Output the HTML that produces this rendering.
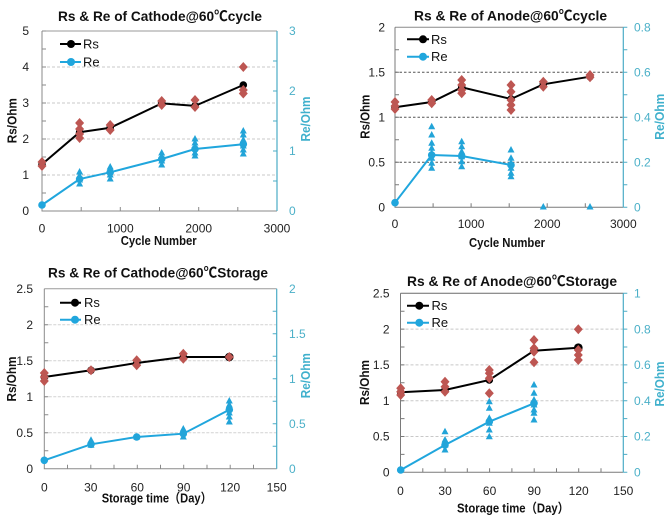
<!DOCTYPE html>
<html><head><meta charset="utf-8"><style>
html,body{margin:0;padding:0;background:#fff;}
svg{display:block;}
text{font-family:"Liberation Sans","Noto Sans CJK SC",sans-serif;}
.t{font-size:14px;font-weight:bold;fill:#111;}
.at{font-size:13px;font-weight:bold;fill:#111;}
.ar{font-size:13px;font-weight:bold;fill:#3fb0cc;}
.tk{font-size:12px;fill:#222;}
.tr{font-size:12px;fill:#4bb0c8;}
.lg{font-size:13px;fill:#111;}
</style></head><body>
<svg width="668" height="519" viewBox="0 0 668 519" xmlns="http://www.w3.org/2000/svg">
<rect width="668" height="519" fill="#fff"/>

<!-- ================= CHART 1 ================= -->
<g>
<path d="M42 175H277M42 139H277M42 103H277M42 67H277" stroke="#c8c8c8" stroke-width="1" stroke-dasharray="3,2" fill="none"/>
<path d="M42 31H277" stroke="#9a9a9a" stroke-width="1"/>
<path d="M42 31V211H277" stroke="#8a8a8a" stroke-width="1" fill="none"/>
<path d="M277 31V211" stroke="#4bacc6" stroke-width="1.2"/>
<path d="M42 193h4M42 175h4M42 157h4M42 139h4M42 121h4M42 103h4M42 85h4M42 67h4M42 49h4M42 31h4M81.2 211v-4M120.3 211v-4M159.5 211v-4M198.7 211v-4M237.8 211v-4" stroke="#8a8a8a" stroke-width="1"/>
<path d="M277 181h-4M277 151h-4M277 121h-4M277 91h-4M277 61h-4" stroke="#4bacc6" stroke-width="1"/>
<polyline points="42,164.2 79.6,132.2 110.2,127.8 161.7,103.4 195,105.9 243.3,85" fill="none" stroke="#000" stroke-width="2"/>
<g fill="#000"><circle cx="42" cy="164.2" r="3.8"/><circle cx="79.6" cy="132.2" r="3.8"/><circle cx="110.2" cy="127.8" r="3.8"/><circle cx="161.7" cy="103.4" r="3.8"/><circle cx="195" cy="105.9" r="3.8"/><circle cx="243.3" cy="85" r="3.8"/></g>
<polyline points="42,205 79.6,179 110.2,172.3 161.7,159 195,149 243.3,144.3" fill="none" stroke="#20a6dd" stroke-width="2"/>
<g fill="#20a6dd"><circle cx="42" cy="205" r="3.8"/><circle cx="79.6" cy="179" r="3.8"/><circle cx="110.2" cy="172.3" r="3.8"/><circle cx="161.7" cy="159" r="3.8"/><circle cx="195" cy="149" r="3.8"/><circle cx="243.3" cy="144.3" r="3.8"/></g>
<path fill="#bd5652" d="M42 157l4.5 5-4.5 5-4.5-5zM42 161l4.5 5-4.5 5-4.5-5zM79.6 118l4.5 5-4.5 5-4.5-5zM79.6 124l4.5 5-4.5 5-4.5-5zM79.6 129l4.5 5-4.5 5-4.5-5zM79.6 133l4.5 5-4.5 5-4.5-5zM110.2 120l4.5 5-4.5 5-4.5-5zM110.2 125l4.5 5-4.5 5-4.5-5zM161.7 96l4.5 5-4.5 5-4.5-5zM161.7 100l4.5 5-4.5 5-4.5-5zM195 95l4.5 5-4.5 5-4.5-5zM195 102l4.5 5-4.5 5-4.5-5zM243.3 62l4.5 5-4.5 5-4.5-5zM243.3 85l4.5 5-4.5 5-4.5-5zM243.3 88.5l4.5 5-4.5 5-4.5-5z"/>
<path fill="#22a4d8" d="M79.6 168l3.5 6.5h-7zM79.6 172l3.5 6.5h-7zM79.6 176l3.5 6.5h-7zM79.6 180l3.5 6.5h-7zM110.2 163l3.5 6.5h-7zM110.2 167l3.5 6.5h-7zM110.2 171l3.5 6.5h-7zM110.2 175l3.5 6.5h-7zM161.7 149l3.5 6.5h-7zM161.7 153l3.5 6.5h-7zM161.7 157l3.5 6.5h-7zM161.7 161l3.5 6.5h-7zM195 135l3.5 6.5h-7zM195 139l3.5 6.5h-7zM195 144l3.5 6.5h-7zM195 149l3.5 6.5h-7zM195 152l3.5 6.5h-7zM243.3 127l3.5 6.5h-7zM243.3 131l3.5 6.5h-7zM243.3 136l3.5 6.5h-7zM243.3 142l3.5 6.5h-7zM243.3 146l3.5 6.5h-7zM243.3 150l3.5 6.5h-7z"/>
<!-- legend -->
<path d="M60 44H81M60 62H81" stroke="#000" stroke-width="2"/>
<path d="M60 62H81" stroke="#20a6dd" stroke-width="2"/>
<circle cx="71" cy="44" r="4" fill="#000"/><circle cx="71" cy="62" r="4" fill="#20a6dd"/>
<text class="lg" x="83" y="48.5">Rs</text><text class="lg" x="83" y="66.5">Re</text>
<!-- labels -->
<text class="t" x="160" y="21" text-anchor="middle" textLength="204" lengthAdjust="spacingAndGlyphs">Rs &amp; Re of Cathode@60℃cycle</text>
<g class="tk" text-anchor="end"><text x="29" y="215">0</text><text x="29" y="179">1</text><text x="29" y="143">2</text><text x="29" y="107">3</text><text x="29" y="71">4</text><text x="29" y="35">5</text></g>
<g class="tr"><text x="289" y="215">0</text><text x="289" y="155">1</text><text x="289" y="95">2</text><text x="289" y="35">3</text></g>
<g class="tk" text-anchor="middle"><text x="42" y="232.5">0</text><text x="120.3" y="232.5">1000</text><text x="198.7" y="232.5">2000</text><text x="277" y="232.5">3000</text></g>
<text class="at" x="158.7" y="245" text-anchor="middle" textLength="76" lengthAdjust="spacingAndGlyphs">Cycle Number</text>
<text class="at" x="16.5" y="120.7" text-anchor="middle" transform="rotate(-90 16.5 120.7)" textLength="45" lengthAdjust="spacingAndGlyphs">Rs/Ohm</text>
<text class="ar" x="310" y="119" text-anchor="middle" transform="rotate(-90 310 119)" textLength="45" lengthAdjust="spacingAndGlyphs">Re/Ohm</text>
</g>

<!-- ================= CHART 2 ================= -->
<g>
<path d="M395 162.3H623.3M395 117.3H623.3M395 72.3H623.3" stroke="#555" stroke-width="1" stroke-dasharray="2.5,2" fill="none"/>
<path d="M395 27.3H623.3" stroke="#8a8a8a" stroke-width="1"/>
<path d="M395 27.3V207.3H623.3" stroke="#7a7a7a" stroke-width="1" fill="none"/>
<path d="M623.3 27.3V207.3" stroke="#4bacc6" stroke-width="1.2"/>
<path d="M395 184.8h4M395 162.3h4M395 139.8h4M395 117.3h4M395 94.8h4M395 72.3h4M395 49.8h4M433.1 207.3v-4M471.1 207.3v-4M509.2 207.3v-4M547.2 207.3v-4M585.3 207.3v-4" stroke="#7a7a7a" stroke-width="1"/>
<path d="M623.3 184.8h4M623.3 162.3h4M623.3 139.8h4M623.3 117.3h4M623.3 94.8h4M623.3 72.3h4M623.3 49.8h4M623.3 27.3h4M623.3 207.3h4" stroke="#4bacc6" stroke-width="1"/>
<polyline points="395,107.3 431.7,102 461.7,87.3 511,99 543.3,84.3 590,76.7" fill="none" stroke="#000" stroke-width="2"/>
<g fill="#000"><circle cx="395" cy="107.3" r="3.8"/><circle cx="431.7" cy="102" r="3.8"/><circle cx="461.7" cy="87.3" r="3.8"/><circle cx="511" cy="99" r="3.8"/><circle cx="543.3" cy="84.3" r="3.8"/><circle cx="590" cy="76.7" r="3.8"/></g>
<polyline points="395,202.7 431.7,155 461.7,156 511,165" fill="none" stroke="#20a6dd" stroke-width="2"/>
<g fill="#20a6dd"><circle cx="395" cy="202.7" r="3.8"/><circle cx="431.7" cy="155" r="3.8"/><circle cx="461.7" cy="156" r="3.8"/><circle cx="511" cy="165" r="3.8"/></g>
<path fill="#bd5652" d="M395 97l4.5 5-4.5 5-4.5-5zM395 101l4.5 5-4.5 5-4.5-5zM395 104l4.5 5-4.5 5-4.5-5zM431.7 95l4.5 5-4.5 5-4.5-5zM431.7 98.3l4.5 5-4.5 5-4.5-5zM461.7 75l4.5 5-4.5 5-4.5-5zM461.7 80l4.5 5-4.5 5-4.5-5zM461.7 85l4.5 5-4.5 5-4.5-5zM461.7 88.3l4.5 5-4.5 5-4.5-5zM511 80l4.5 5-4.5 5-4.5-5zM511 86.7l4.5 5-4.5 5-4.5-5zM511 95l4.5 5-4.5 5-4.5-5zM511 100l4.5 5-4.5 5-4.5-5zM511 105l4.5 5-4.5 5-4.5-5zM543.3 76.7l4.5 5-4.5 5-4.5-5zM543.3 81.7l4.5 5-4.5 5-4.5-5zM590 70l4.5 5-4.5 5-4.5-5zM590 72.3l4.5 5-4.5 5-4.5-5z"/>
<path fill="#22a4d8" d="M431.7 122.7l3.5 6.5h-7zM431.7 131l3.5 6.5h-7zM431.7 139.3l3.5 6.5h-7zM431.7 144.3l3.5 6.5h-7zM431.7 149.3l3.5 6.5h-7zM431.7 154.3l3.5 6.5h-7zM431.7 159.3l3.5 6.5h-7zM431.7 164.3l3.5 6.5h-7zM461.7 137.7l3.5 6.5h-7zM461.7 142.7l3.5 6.5h-7zM461.7 147.7l3.5 6.5h-7zM461.7 152.7l3.5 6.5h-7zM461.7 157.7l3.5 6.5h-7zM461.7 162.7l3.5 6.5h-7zM511 146l3.5 6.5h-7zM511 154.3l3.5 6.5h-7zM511 159.3l3.5 6.5h-7zM511 164.3l3.5 6.5h-7zM511 169.3l3.5 6.5h-7zM511 172.7l3.5 6.5h-7zM543.3 203l3.5 6.5h-7zM590 203l3.5 6.5h-7z"/>
<path d="M407 39.3H429" stroke="#000" stroke-width="2"/>
<path d="M407 56.7H429" stroke="#20a6dd" stroke-width="2"/>
<circle cx="423" cy="39.3" r="4" fill="#000"/><circle cx="423" cy="56.7" r="4" fill="#20a6dd"/>
<text class="lg" x="431" y="43.8">Rs</text><text class="lg" x="431" y="61.2">Re</text>
<text class="t" x="510.5" y="20.5" text-anchor="middle" textLength="193" lengthAdjust="spacingAndGlyphs">Rs &amp; Re of Anode@60℃cycle</text>
<g class="tk" text-anchor="end"><text x="385" y="211.5">0</text><text x="385" y="166.5">0.5</text><text x="385" y="121.5">1</text><text x="385" y="76.5">1.5</text><text x="385" y="31.5">2</text></g>
<g class="tr"><text x="634" y="211.5">0</text><text x="634" y="166.5">0.2</text><text x="634" y="121.5">0.4</text><text x="634" y="76.5">0.6</text><text x="634" y="31.5">0.8</text></g>
<g class="tk" text-anchor="middle"><text x="395" y="228">0</text><text x="471.1" y="228">1000</text><text x="547.2" y="228">2000</text><text x="623.3" y="228">3000</text></g>
<text class="at" x="507" y="247" text-anchor="middle" textLength="76" lengthAdjust="spacingAndGlyphs">Cycle Number</text>
<text class="at" x="369.5" y="116.7" text-anchor="middle" transform="rotate(-90 369.5 116.7)" textLength="44" lengthAdjust="spacingAndGlyphs">Rs/Ohm</text>
<text class="ar" x="664" y="116.7" text-anchor="middle" transform="rotate(-90 664 116.7)" textLength="46" lengthAdjust="spacingAndGlyphs">Re/Ohm</text>
</g>

<!-- ================= CHART 3 ================= -->
<g>
<path d="M44.3 432.7H276.7M44.3 396.7H276.7M44.3 360.7H276.7M44.3 324.7H276.7" stroke="#d2d2d2" stroke-width="1" stroke-dasharray="3,1.5" fill="none"/>
<path d="M44.3 288.7H276.7" stroke="#9a9a9a" stroke-width="1"/>
<path d="M44.3 288.7V468.7H276.7" stroke="#8a8a8a" stroke-width="1" fill="none"/>
<path d="M276.7 288.7V468.7" stroke="#4bacc6" stroke-width="1.2"/>
<path d="M44.3 450.7h4M44.3 432.7h4M44.3 414.7h4M44.3 396.7h4M44.3 378.7h4M44.3 360.7h4M44.3 342.7h4M44.3 324.7h4M44.3 306.7h4M67.5 468.7v-4M90.8 468.7v-4M114 468.7v-4M137.3 468.7v-4M160.5 468.7v-4M183.7 468.7v-4M207 468.7v-4M230.2 468.7v-4M253.5 468.7v-4" stroke="#8a8a8a" stroke-width="1"/>
<path d="M276.7 446.2h-4M276.7 423.7h-4M276.7 401.2h-4M276.7 378.7h-4M276.7 356.2h-4M276.7 333.7h-4M276.7 311.2h-4" stroke="#4bacc6" stroke-width="1"/>
<polyline points="44.3,377 91,370.3 136.7,363 183.3,357 229.3,357" fill="none" stroke="#000" stroke-width="2"/>
<g fill="#000"><circle cx="44.3" cy="377" r="3.8"/><circle cx="91" cy="370.3" r="3.8"/><circle cx="136.7" cy="363" r="3.8"/><circle cx="183.3" cy="357" r="3.8"/><circle cx="229.3" cy="357" r="4.3"/></g>
<polyline points="44.3,460.3 91,444.3 136.7,437 183.3,433.7 229.3,409.7" fill="none" stroke="#20a6dd" stroke-width="2"/>
<g fill="#20a6dd"><circle cx="44.3" cy="460.3" r="3.8"/><circle cx="91" cy="444.3" r="3.8"/><circle cx="136.7" cy="437" r="3.8"/><circle cx="183.3" cy="433.7" r="3.8"/><circle cx="229.3" cy="409.7" r="3.8"/></g>
<path fill="#bd5652" d="M44.3 368l4.5 5-4.5 5-4.5-5zM44.3 372l4.5 5-4.5 5-4.5-5zM44.3 376l4.5 5-4.5 5-4.5-5zM91 365.3l4.5 5-4.5 5-4.5-5zM136.7 355.3l4.5 5-4.5 5-4.5-5zM136.7 360.3l4.5 5-4.5 5-4.5-5zM183.3 348.7l4.5 5-4.5 5-4.5-5zM183.3 353.7l4.5 5-4.5 5-4.5-5zM229.3 352l4.5 5-4.5 5-4.5-5z"/>
<path fill="#22a4d8" d="M91 436.3l3.5 6.5h-7zM91 441.3l3.5 6.5h-7zM136.7 433l3.5 6.5h-7zM183.3 425l3.5 6.5h-7zM183.3 429l3.5 6.5h-7zM183.3 433l3.5 6.5h-7zM229.3 397l3.5 6.5h-7zM229.3 401l3.5 6.5h-7zM229.3 405l3.5 6.5h-7zM229.3 409l3.5 6.5h-7zM229.3 413l3.5 6.5h-7zM229.3 418l3.5 6.5h-7z"/>
<path d="M60 302.7H81" stroke="#000" stroke-width="2"/>
<path d="M60 319.7H81" stroke="#20a6dd" stroke-width="2"/>
<circle cx="75" cy="302.7" r="4" fill="#000"/><circle cx="75" cy="319.7" r="4" fill="#20a6dd"/>
<text class="lg" x="84" y="307.2">Rs</text><text class="lg" x="84" y="324.2">Re</text>
<text class="t" x="158" y="277.3" text-anchor="middle" textLength="220" lengthAdjust="spacingAndGlyphs">Rs &amp; Re of Cathode@60℃Storage</text>
<g class="tk" text-anchor="end"><text x="33" y="472.9">0</text><text x="33" y="436.9">0.5</text><text x="33" y="400.9">1</text><text x="33" y="364.9">1.5</text><text x="33" y="328.9">2</text><text x="33" y="292.9">2.5</text></g>
<g class="tr"><text x="289" y="472.9">0</text><text x="289" y="427.9">0.5</text><text x="289" y="382.9">1</text><text x="289" y="337.9">1.5</text><text x="289" y="292.9">2</text></g>
<g class="tk" text-anchor="middle"><text x="44.3" y="491.5">0</text><text x="90.8" y="491.5">30</text><text x="137.3" y="491.5">60</text><text x="183.7" y="491.5">90</text><text x="230.2" y="491.5">120</text><text x="276.7" y="491.5">150</text></g>
<text class="at" x="156.7" y="502.5" text-anchor="middle" textLength="110" lengthAdjust="spacingAndGlyphs">Storage time（Day）</text>
<text class="at" x="16" y="379" text-anchor="middle" transform="rotate(-90 16 379)" textLength="45" lengthAdjust="spacingAndGlyphs">Rs/Ohm</text>
<text class="ar" x="310" y="375.7" text-anchor="middle" transform="rotate(-90 310 375.7)" textLength="45" lengthAdjust="spacingAndGlyphs">Re/Ohm</text>
</g>

<!-- ================= CHART 4 ================= -->
<g>
<path d="M400.5 436.5H623.3M400.5 400.7H623.3M400.5 364.9H623.3M400.5 329.1H623.3" stroke="#c8c8c8" stroke-width="1" stroke-dasharray="3,2" fill="none"/>
<path d="M400.5 293.3H623.3" stroke="#6a6a6a" stroke-width="1"/>
<path d="M400.5 293.3V472.3H623.3" stroke="#7a7a7a" stroke-width="1" fill="none"/>
<path d="M623.3 293.3V472.3" stroke="#4bacc6" stroke-width="1.2"/>
<path d="M400.5 454.4h4M400.5 436.5h4M400.5 418.6h4M400.5 400.7h4M400.5 382.8h4M400.5 364.9h4M400.5 347h4M400.5 329.1h4M400.5 311.2h4M422.8 472.3v-4M445.1 472.3v-4M467.3 472.3v-4M489.6 472.3v-4M511.9 472.3v-4M534.2 472.3v-4M556.5 472.3v-4M578.7 472.3v-4M601 472.3v-4" stroke="#7a7a7a" stroke-width="1"/>
<path d="M623.3 454.4h4M623.3 436.5h4M623.3 418.6h4M623.3 400.7h4M623.3 382.8h4M623.3 364.9h4M623.3 347h4M623.3 329.1h4M623.3 311.2h4M623.3 293.3h4M623.3 472.3h4" stroke="#4bacc6" stroke-width="1"/>
<polyline points="400.7,392.3 445,390 489.3,380 534,350.7 578.3,347.7" fill="none" stroke="#000" stroke-width="2"/>
<g fill="#000"><circle cx="400.7" cy="392.3" r="3.8"/><circle cx="445" cy="390" r="3.8"/><circle cx="489.3" cy="380" r="3.8"/><circle cx="534" cy="350.7" r="3.8"/><circle cx="578.3" cy="347.7" r="4.3"/></g>
<polyline points="400.7,470 445,445 489.3,421.7 534,403.3" fill="none" stroke="#20a6dd" stroke-width="2"/>
<g fill="#20a6dd"><circle cx="400.7" cy="470" r="3.8"/><circle cx="445" cy="445" r="3.8"/><circle cx="489.3" cy="421.7" r="3.8"/><circle cx="534" cy="403.3" r="3.8"/></g>
<path fill="#bd5652" d="M400.7 383.3l4.5 5-4.5 5-4.5-5zM400.7 386.7l4.5 5-4.5 5-4.5-5zM400.7 390l4.5 5-4.5 5-4.5-5zM445 376.7l4.5 5-4.5 5-4.5-5zM445 381.7l4.5 5-4.5 5-4.5-5zM445 386.7l4.5 5-4.5 5-4.5-5zM489.3 365l4.5 5-4.5 5-4.5-5zM489.3 368.3l4.5 5-4.5 5-4.5-5zM489.3 373.3l4.5 5-4.5 5-4.5-5zM489.3 388.3l4.5 5-4.5 5-4.5-5zM534 335l4.5 5-4.5 5-4.5-5zM534 343.3l4.5 5-4.5 5-4.5-5zM534 346.7l4.5 5-4.5 5-4.5-5zM534 357.3l4.5 5-4.5 5-4.5-5zM578.3 324.3l4.5 5-4.5 5-4.5-5zM578.3 345l4.5 5-4.5 5-4.5-5zM578.3 350l4.5 5-4.5 5-4.5-5zM578.3 355l4.5 5-4.5 5-4.5-5z"/>
<path fill="#22a4d8" d="M445 427.7l3.5 6.5h-7zM445 436l3.5 6.5h-7zM445 441l3.5 6.5h-7zM445 446l3.5 6.5h-7zM489.3 397.7l3.5 6.5h-7zM489.3 404.3l3.5 6.5h-7zM489.3 414.3l3.5 6.5h-7zM489.3 419.3l3.5 6.5h-7zM489.3 426l3.5 6.5h-7zM489.3 432.7l3.5 6.5h-7zM534 381l3.5 6.5h-7zM534 389.3l3.5 6.5h-7zM534 396l3.5 6.5h-7zM534 401l3.5 6.5h-7zM534 406l3.5 6.5h-7zM534 409.3l3.5 6.5h-7zM534 416l3.5 6.5h-7z"/>
<path d="M407 305.7H429" stroke="#000" stroke-width="2"/>
<path d="M407 322.7H429" stroke="#20a6dd" stroke-width="2"/>
<circle cx="419.3" cy="305.7" r="4" fill="#000"/><circle cx="419.3" cy="322.7" r="4" fill="#20a6dd"/>
<text class="lg" x="431.5" y="310.2">Rs</text><text class="lg" x="431.5" y="327.2">Re</text>
<text class="t" x="512" y="286" text-anchor="middle" textLength="210" lengthAdjust="spacingAndGlyphs">Rs &amp; Re of Anode@60℃Storage</text>
<g class="tk" text-anchor="end"><text x="389.5" y="476.5">0</text><text x="389.5" y="440.7">0.5</text><text x="389.5" y="404.9">1</text><text x="389.5" y="369.1">1.5</text><text x="389.5" y="333.3">2</text><text x="389.5" y="297.5">2.5</text></g>
<g class="tr"><text x="634" y="476.5">0</text><text x="634" y="440.7">0.2</text><text x="634" y="404.9">0.4</text><text x="634" y="369.1">0.6</text><text x="634" y="333.3">0.8</text><text x="634" y="297.5">1</text></g>
<g class="tk" text-anchor="middle"><text x="400.5" y="495">0</text><text x="445.1" y="495">30</text><text x="489.6" y="495">60</text><text x="534.2" y="495">90</text><text x="578.7" y="495">120</text><text x="623.3" y="495">150</text></g>
<text class="at" x="513" y="512.5" text-anchor="middle" textLength="112" lengthAdjust="spacingAndGlyphs">Storage time（Day）</text>
<text class="at" x="369" y="382.5" text-anchor="middle" transform="rotate(-90 369 382.5)" textLength="45" lengthAdjust="spacingAndGlyphs">Rs/Ohm</text>
<text class="ar" x="664" y="384" text-anchor="middle" transform="rotate(-90 664 384)" textLength="45" lengthAdjust="spacingAndGlyphs">Re/Ohm</text>
</g>
</svg>
</body></html>
